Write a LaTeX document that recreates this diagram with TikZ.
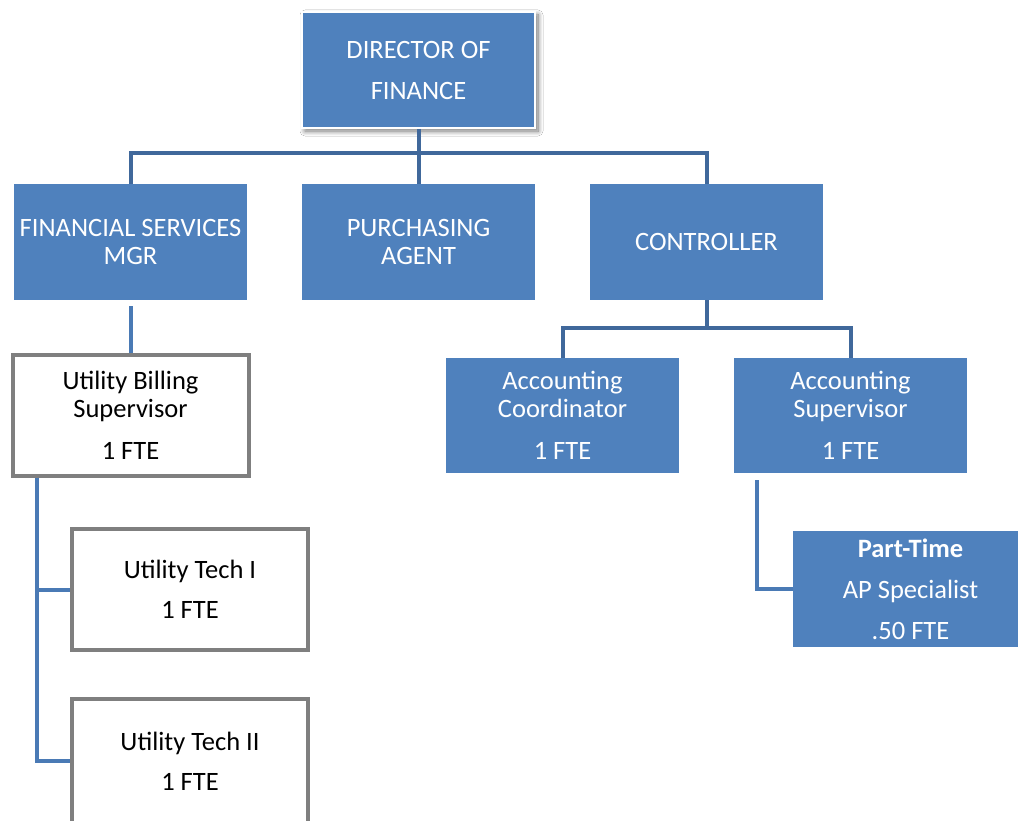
\documentclass[tikz,border=0pt]{standalone}
\usepackage{fontspec}
\setmainfont{Carlito}
\usetikzlibrary{shadows.blur}

\definecolor{boxblue}{HTML}{4F81BD}
\definecolor{linkdark}{HTML}{40689B}
\definecolor{linkblue}{HTML}{4A7AB5}
\definecolor{boxgray}{HTML}{7F7F7F}

\begin{document}
\begin{tikzpicture}[x=1pt, y=-1pt,
        bluebox/.style={rectangle, fill=boxblue, text=white, align=center,
            minimum width=233pt, minimum height=116pt, inner sep=0pt},
        graybox/.style={rectangle, draw=boxgray, line width=4pt, fill=white, text=black,
            align=center, minimum width=236pt, minimum height=121pt, inner sep=0pt},
        link/.style={draw=linkdark, line width=4pt},
        sublink/.style={draw=linkblue, line width=4pt}
    ]
    \useasboundingbox (0,0) rectangle (1018,821);
    \fill[white] (0,0) rectangle (1018,821);

    \begin{scope}[
            every node/.style={bluebox, font=\fontsize{26.5}{28}\selectfont}
        ]
        \node[draw=white, line width=2pt,
            blur shadow={shadow xshift=3pt, shadow yshift=-3pt, shadow blur radius=5pt,
                shadow blur steps=10, shadow opacity=55}]
            (dir) at (418.5,70) {DIRECTOR OF\\[13pt]FINANCE};
        \node (fsm) at (130.5,242) {FINANCIAL SERVICES\\MGR};
        \node (pa) at (418.5,242) {PURCHASING\\AGENT};
        \node (ctrl) at (706.5,242) {CONTROLLER};
        \node[minimum height=115pt] (acoord) at (562.5,415.5) {Accounting\\Coordinator\\[14pt]1 FTE};
        \node[minimum height=115pt] (asup) at (850.5,415.5) {Accounting\\Supervisor\\[14pt]1 FTE};
        \node[minimum width=235pt] (ap) at (910.5,589) {\textbf{Part-Time}\\[13pt]AP Specialist\\[13pt].50 FTE};
    \end{scope}

    \begin{scope}[
            every node/.style={graybox, font=\fontsize{26.5}{28}\selectfont}
        ]
        \node (ubs) at (130.5,415) {Utility Billing\\Supervisor\\[14pt]1 FTE};
        \node (ut1) at (190,589.5) {Utility Tech I\\[12pt]1 FTE};
        \node[minimum height=125pt] (ut2) at (190,761) {Utility Tech II\\[12pt]1 FTE};
    \end{scope}

    % director to first row
    \coordinate (bus) at (418.5,153);
    \draw[link] (dir.south) -- (bus);
    \draw[link] (fsm.north) |- (bus) -| (ctrl.north);
    \draw[link] (bus) -- (pa.north);

    % controller to accounting
    \coordinate (cbus) at (706.5,328);
    \draw[link] (ctrl.south) -- (cbus);
    \draw[link] (acoord.north) |- (cbus) -| (asup.north);

    % billing branch
    \draw[sublink, shorten <=6pt] (fsm.south) -- (ubs.north);
    \coordinate (trunk) at ([xshift=26pt]ubs.south west);
    \draw[sublink] (trunk) |- (ut1.west);
    \draw[sublink] (trunk) |- (ut2.west);

    % part-time
    \draw[sublink, shorten <=7pt] ([xshift=23pt]asup.south west) |- (ap.west);
\end{tikzpicture}
\end{document}
